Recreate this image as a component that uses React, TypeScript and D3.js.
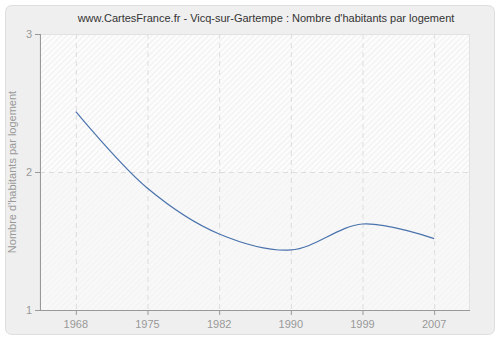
import React from "react";
import * as d3 from "d3";

const years = ["1968", "1975", "1982", "1990", "1999", "2007"];
const values = [2.437, 1.882, 1.551, 1.435, 1.623, 1.517];
const yTicks = [1, 2, 3];
const title = "www.CartesFrance.fr - Vicq-sur-Gartempe : Nombre d'habitants par logement";
const yTitle = "Nombre d'habitants par logement";

export default function App() {
  const W = 500, H = 340;
  const left = 40, right = 470, top = 34, bottom = 310;
  const x = d3.scalePoint<string>().domain(years).range([left, right]).padding(0.5);
  const y = d3.scaleLinear().domain([1, 3]).range([bottom, top]);
  const line = d3
    .line<number>()
    .x((_, i) => x(years[i]) as number)
    .y((d) => y(d))
    .curve(d3.curveCatmullRom.alpha(0.5));
  const font = "'Liberation Sans', Arial, sans-serif";
  return (
    <svg width={W} height={H} style={{ position: "absolute", left: 0, top: 0 }}>
      <defs>
        <pattern id="hatchA" width="4" height="4" patternUnits="userSpaceOnUse" patternTransform="rotate(45)">
          <rect width="4" height="4" fill="#fcfcfc" />
          <line x1="0" y1="0" x2="0" y2="4" stroke="#e8e8e8" strokeWidth="1.2" />
        </pattern>
        <pattern id="hatchB" width="4" height="4" patternUnits="userSpaceOnUse" patternTransform="rotate(45)">
          <rect width="4" height="4" fill="#f8f8f8" />
          <line x1="0" y1="0" x2="0" y2="4" stroke="#f0f0f0" strokeWidth="1.2" />
        </pattern>
      </defs>
      <rect x={5.5} y={5.5} width={489} height={329} rx={6} fill="#efefef" stroke="#dedede" />
      <text x={266} y={22} textAnchor="middle" fontFamily={font} fontSize={11} fill="#333">
        {title}
      </text>
      <rect x={left} y={top} width={right - left} height={y(2) - top} fill="url(#hatchA)" />
      <rect x={left} y={y(2)} width={right - left} height={bottom - y(2)} fill="url(#hatchB)" />
      <rect x={left} y={top + 0.5} width={right - left - 0.5} height={bottom - top} fill="none" stroke="#e2e2e2" />
      {years.map((yr) => (
        <line key={yr} x1={(x(yr) as number) + 0.5} x2={(x(yr) as number) + 0.5} y1={top} y2={bottom}
          stroke="#dddddd" strokeDasharray="5,4" />
      ))}
      <line x1={left} x2={right} y1={y(2) + 0.5} y2={y(2) + 0.5} stroke="#dddddd" strokeDasharray="5,4" />
      <path d={line(values) || ""} fill="none" stroke="#4a73ad" strokeWidth={1.2} />
      <line x1={left + 0.5} x2={left + 0.5} y1={top} y2={bottom + 0.5} stroke="#999" />
      <line x1={left} x2={right} y1={bottom + 0.5} y2={bottom + 0.5} stroke="#999" />
      {yTicks.map((t) => (
        <g key={t}>
          <line x1={left - 5} x2={left} y1={y(t) + 0.5} y2={y(t) + 0.5} stroke="#999" />
          <text x={left - 8} y={y(t) + 4} textAnchor="end" fontFamily={font} fontSize={11} fill="#999">
            {t}
          </text>
        </g>
      ))}
      {years.map((yr) => (
        <g key={yr}>
          <line x1={(x(yr) as number) + 0.5} x2={(x(yr) as number) + 0.5} y1={bottom} y2={bottom + 5} stroke="#999" />
          <text x={x(yr) as number} y={bottom + 18} textAnchor="middle" fontFamily={font} fontSize={11} fill="#999">
            {yr}
          </text>
        </g>
      ))}
      <text transform={`translate(16,${(top + bottom) / 2}) rotate(-90)`} textAnchor="middle"
        fontFamily={font} fontSize={11} fill="#999">
        {yTitle}
      </text>
    </svg>
  );
}
